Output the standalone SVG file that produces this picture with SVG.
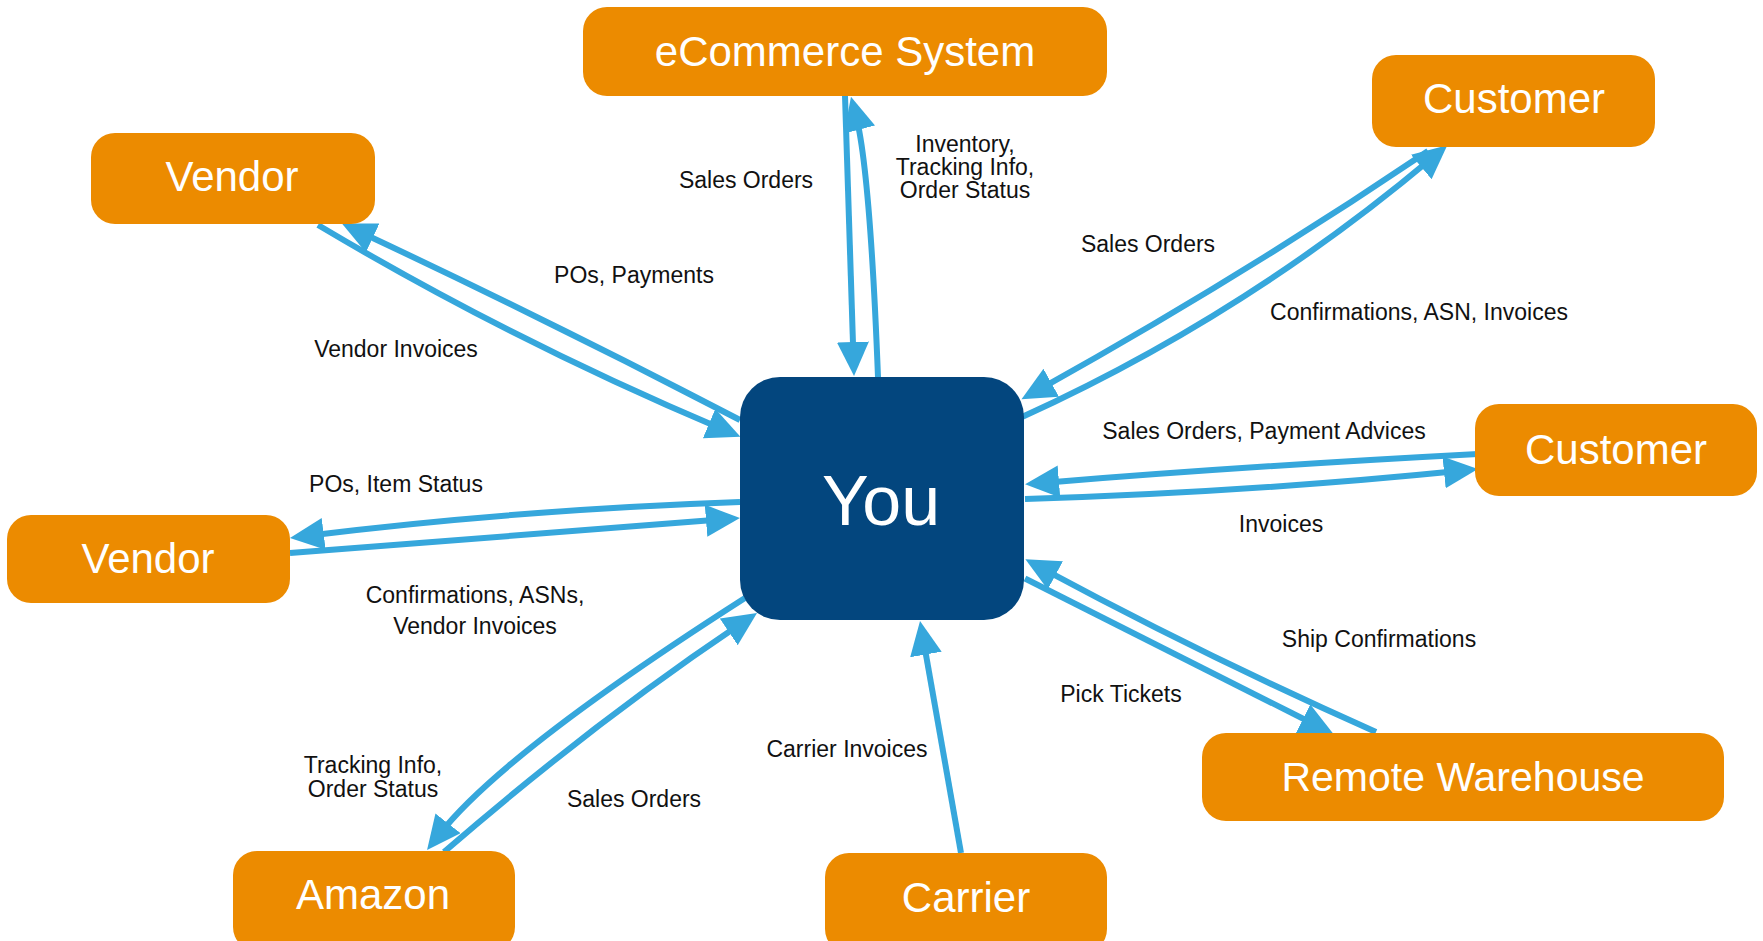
<svg xmlns="http://www.w3.org/2000/svg" width="1763" height="941" viewBox="0 0 1763 941">
<style>
.node rect{fill:#EC8B00}
.node text{fill:#ffffff;font-family:"Liberation Sans",Arial,sans-serif;font-size:42px;text-anchor:middle}
#you rect{fill:#03467E}
#you text{font-size:70px}
.conn path{fill:none;stroke:#36A7DC;stroke-width:6;marker-end:url(#ah)}
.lbl{fill:#111111;font-family:"Liberation Sans",Arial,sans-serif;font-size:23px;text-anchor:middle}
</style>
<defs>
<marker id="ah" markerUnits="userSpaceOnUse" markerWidth="40" markerHeight="40" refX="14" refY="16" orient="auto" viewBox="0 0 40 40">
<path d="M0,0 L34,16 L0,32 Z" fill="#36A7DC"/>
</marker>
</defs>
<rect width="1763" height="941" fill="#ffffff"/>
<g id="connectors" class="conn">
<path d="M845,96 L853.4,356"/>
<path d="M878,377 Q870,170 856,116"/>
<path d="M740,420 Q552,322 360,232"/>
<path d="M318,225 Q513,341 722,429"/>
<path d="M1428,151 Q1240,278 1039,389.6"/>
<path d="M1022,417 Q1244,316 1432,158"/>
<path d="M1478,454 Q1250,466 1045,482.7"/>
<path d="M1025,499 Q1250,492 1458,471"/>
<path d="M740,502 Q515,510 309.8,535.5"/>
<path d="M290,553 Q505,537 720,519.6"/>
<path d="M745,598 Q504,752 439.4,834.3"/>
<path d="M444,852 Q593,723 740.4,624.1"/>
<path d="M961,853 L923.5,640.7"/>
<path d="M1025,578.5 L1315.6,725"/>
<path d="M1376,732 Q1205,656 1043,568.8"/>
</g>
<g id="labels">
<text class="lbl" x="746" y="188">Sales Orders</text>
<text class="lbl" x="965" y="152">Inventory,</text>
<text class="lbl" x="965" y="175">Tracking Info,</text>
<text class="lbl" x="965" y="198">Order Status</text>
<text class="lbl" x="634" y="283">POs, Payments</text>
<text class="lbl" x="396" y="357">Vendor Invoices</text>
<text class="lbl" x="1148" y="252">Sales Orders</text>
<text class="lbl" x="1419" y="320">Confirmations, ASN, Invoices</text>
<text class="lbl" x="1264" y="439">Sales Orders, Payment Advices</text>
<text class="lbl" x="1281" y="532">Invoices</text>
<text class="lbl" x="396" y="492">POs, Item Status</text>
<text class="lbl" x="475" y="603">Confirmations, ASNs,</text>
<text class="lbl" x="475" y="634">Vendor Invoices</text>
<text class="lbl" x="373" y="773">Tracking Info,</text>
<text class="lbl" x="373" y="797">Order Status</text>
<text class="lbl" x="634" y="807">Sales Orders</text>
<text class="lbl" x="847" y="757">Carrier Invoices</text>
<text class="lbl" x="1379" y="647">Ship Confirmations</text>
<text class="lbl" x="1121" y="702">Pick Tickets</text>
</g>
<g id="ecommerce" class="node"><rect x="583" y="7" width="524" height="89" rx="24"/><text x="845" y="66">eCommerce System</text></g>
<g id="customer-top" class="node"><rect x="1372" y="55" width="283" height="92" rx="24"/><text x="1514" y="113">Customer</text></g>
<g id="vendor-top" class="node"><rect x="91" y="133" width="284" height="91" rx="24"/><text x="232" y="191">Vendor</text></g>
<g id="you" class="node"><rect x="740" y="377" width="284" height="243" rx="40"/><text x="881" y="525">You</text></g>
<g id="customer-right" class="node"><rect x="1475" y="404" width="282" height="92" rx="24"/><text x="1616" y="464">Customer</text></g>
<g id="vendor-left" class="node"><rect x="7" y="515" width="283" height="88" rx="24"/><text x="148" y="573">Vendor</text></g>
<g id="warehouse" class="node"><rect x="1202" y="733" width="522" height="88" rx="24"/><text x="1463" y="791" style="font-size:41px">Remote Warehouse</text></g>
<g id="amazon" class="node"><rect x="233" y="851" width="282" height="100" rx="24"/><text x="373" y="909">Amazon</text></g>
<g id="carrier" class="node"><rect x="825" y="853" width="282" height="100" rx="24"/><text x="966" y="912">Carrier</text></g>
</svg>
